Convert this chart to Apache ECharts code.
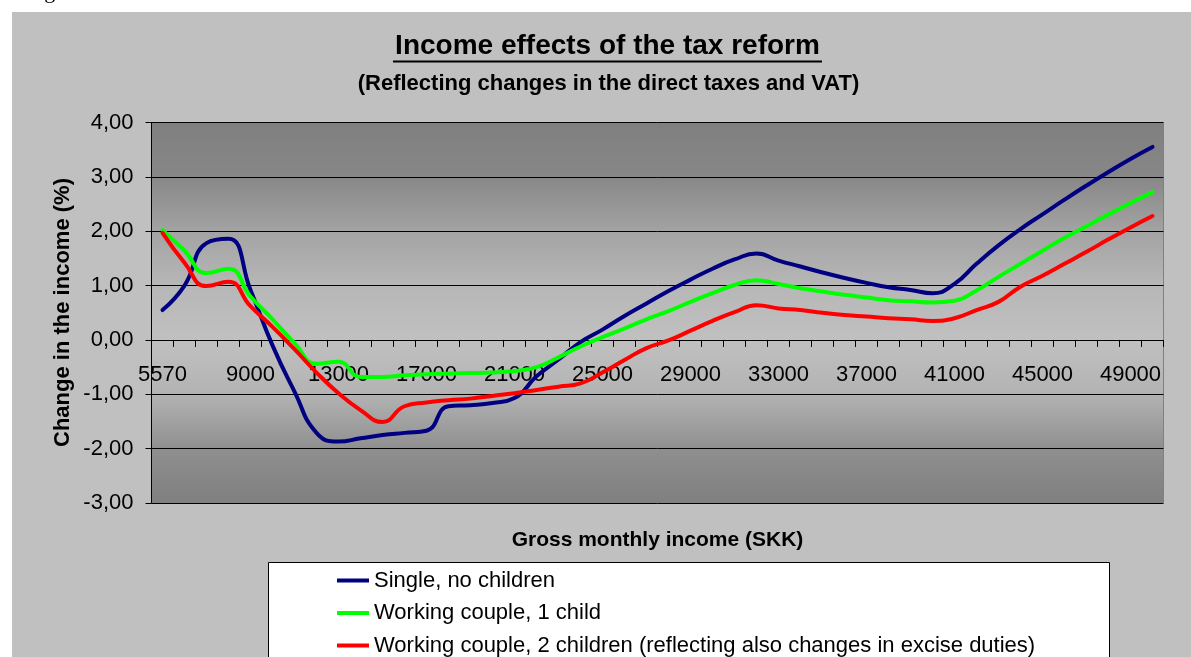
<!DOCTYPE html>
<html>
<head>
<meta charset="utf-8">
<script src="https://cdn.jsdelivr.net/npm/echarts@6/dist/echarts.min.js"></script>
<style>
html,body{margin:0;padding:0;background:#fff;}
#chart{width:1191px;height:657px;}
</style>
</head>
<body>
<div id="chart"></div>
<script>
// ---- data ----
const categories = ['5570','6000','7000','8000','9000','10000','11000','12000','13000','14000',
  '15000','16000','17000','18000','19000','20000','21000','22000','23000','24000',
  '25000','26000','27000','28000','29000','30000','31000','32000','33000','34000',
  '35000','36000','37000','38000','39000','40000','41000','42000','43000','44000',
  '45000','46000','47000','48000','49000','50000'];

const singleNoChildren = [0.55, 1.00, 1.78, 1.86, 0.92, -0.10, -0.95, -1.71, -1.87, -1.81,
  -1.75, -1.71, -1.67, -1.22, -1.20, -1.16, -1.07, -0.67, -0.36, -0.04,
  0.19, 0.44, 0.67, 0.90, 1.11, 1.31, 1.48, 1.59, 1.46, 1.35,
  1.24, 1.14, 1.05, 0.97, 0.92, 0.86, 1.03, 1.40, 1.74, 2.04,
  2.31, 2.58, 2.84, 3.09, 3.33, 3.55];

const coupleOneChild = [2.02, 1.64, 1.23, 1.31, 0.80, 0.38, -0.06, -0.44, -0.40, -0.68,
  -0.68, -0.65, -0.63, -0.62, -0.61, -0.60, -0.57, -0.50, -0.32, -0.12,
  0.05, 0.21, 0.38, 0.53, 0.70, 0.86, 1.01, 1.10, 1.03, 0.95,
  0.89, 0.83, 0.78, 0.73, 0.71, 0.69, 0.72, 0.91, 1.16, 1.40,
  1.64, 1.88, 2.09, 2.31, 2.52, 2.72];

const coupleTwoChildren = [1.97, 1.42, 0.99, 1.07, 0.62, 0.24, -0.17, -0.60, -0.98, -1.29,
  -1.51, -1.22, -1.15, -1.11, -1.08, -1.03, -0.98, -0.92, -0.86, -0.80,
  -0.60, -0.37, -0.15, -0.01, 0.17, 0.35, 0.51, 0.64, 0.58, 0.55,
  0.50, 0.46, 0.43, 0.40, 0.38, 0.35, 0.40, 0.55, 0.70, 0.98,
  1.18, 1.40, 1.62, 1.85, 2.07, 2.28];

const seriesNames = ['Single, no children', 'Working couple, 1 child',
  'Working couple, 2 children (reflecting also changes in excise duties)'];
const seriesColors = ['#000080', '#00ff00', '#ff0000'];

const yMin = -3, yMax = 4, yStep = 1;
const titleText = 'Income effects of the tax reform';
const subtitleText = '(Reflecting changes in the direct taxes and VAT)';
const xAxisTitle = 'Gross monthly income (SKK)';
const yAxisTitle = 'Change in the income (%)';

// ---- chart ----
const FONT = '"Liberation Sans", Arial, sans-serif';
const chart = echarts.init(document.getElementById('chart'), null, {renderer: 'canvas'});

const W = 1191, H = 657;
const gridLeft = 151.5, gridRight = 27.5, gridTop = 122.5, gridBottom = 154;
const gridHeight = H - gridTop - gridBottom;
// place the category axis on the zero line of the value axis
const xAxisOffset = -gridHeight * (0 - yMin) / (yMax - yMin);

const plotGradient = new echarts.graphic.LinearGradient(0, 0, 0, 1, [
  {offset: 0, color: '#7f7f7f'},
  {offset: 0.143, color: '#878787'},
  {offset: 0.286, color: '#a3a3a3'},
  {offset: 0.43, color: '#b7b7b7'},
  {offset: 0.571, color: '#c0c0c0'},
  {offset: 0.714, color: '#b3b3b3'},
  {offset: 0.857, color: '#8f8f8f'},
  {offset: 1, color: '#7f7f7f'}
]);

const data = [singleNoChildren, coupleOneChild, coupleTwoChildren];

const option = {
  backgroundColor: '#c0c0c0',
  animation: false,
  textStyle: {fontFamily: FONT},
  grid: {
    left: gridLeft, right: gridRight, top: gridTop, bottom: gridBottom,
    show: true, backgroundColor: plotGradient, borderColor: '#808080', borderWidth: 1,
    containLabel: false
  },
  xAxis: {
    type: 'category',
    data: categories,
    boundaryGap: true,
    position: 'bottom',
    offset: xAxisOffset,
    axisLine: {show: true, onZero: false, lineStyle: {color: '#000', width: 1}},
    axisTick: {show: true, interval: 0, length: 7, inside: false, lineStyle: {color: '#000', width: 1}},
    axisLabel: {interval: 3, color: '#000', fontSize: 22, fontFamily: FONT, margin: 24, hideOverlap: false},
    splitLine: {show: false}
  },
  yAxis: {
    type: 'value',
    min: yMin, max: yMax, interval: yStep,
    axisLine: {show: true, lineStyle: {color: '#000', width: 1}},
    axisTick: {show: true, length: 6, lineStyle: {color: '#000', width: 1}},
    axisLabel: {
      color: '#000', fontSize: 22, fontFamily: FONT, margin: 18,
      formatter: v => v.toFixed(2).replace('.', ',')
    },
    splitLine: {show: true, lineStyle: {color: '#000', width: 1}}
  },
  legend: {
    orient: 'vertical',
    left: 268, top: 562,
    height: 110,
    padding: [7.5, 69, 0, 69],
    itemWidth: 32, itemHeight: 4,
    itemGap: 10.5,
    icon: 'rect',
    z: 10,
    data: seriesNames,
    textStyle: {color: '#000', fontSize: 22, fontFamily: FONT}
  },
  graphic: [
    {type: 'rect', silent: true, z: 1, shape: {x: 0, y: 0, width: W, height: 12}, style: {fill: '#fff'}},
    {type: 'rect', silent: true, z: 1, shape: {x: 0, y: 0, width: 12, height: H}, style: {fill: '#fff'}},
    {type: 'text', silent: true, z: 2, x: 26, y: -19,
      style: {text: 'Figure', font: '22px "Liberation Serif", serif', fill: '#000', align: 'left', verticalAlign: 'top'}},
    {type: 'rect', silent: true, z: 1, shape: {x: 268.5, y: 562.5, width: 841, height: 120},
      style: {fill: '#fff', stroke: '#000', lineWidth: 1}},
    {type: 'text', silent: true, z: 2, x: 607.5, y: 46,
      style: {text: titleText, font: 'bold 28px ' + FONT, fill: '#000', align: 'center', verticalAlign: 'middle', textAlign: 'center', textVerticalAlign: 'middle'}},
    {type: 'line', silent: true, z: 2, shape: {x1: 393, y1: 61.5, x2: 822, y2: 61.5}, style: {stroke: '#000', lineWidth: 2}},
    {type: 'text', silent: true, z: 2, x: 608.5, y: 83.5,
      style: {text: subtitleText, font: 'bold 22px ' + FONT, fill: '#000', align: 'center', verticalAlign: 'middle', textAlign: 'center', textVerticalAlign: 'middle'}},
    {type: 'text', silent: true, z: 2, x: 657.5, y: 540.5,
      style: {text: xAxisTitle, font: 'bold 21px ' + FONT, fill: '#000', align: 'center', verticalAlign: 'middle', textAlign: 'center', textVerticalAlign: 'middle'}},
    {type: 'text', silent: true, z: 2, x: 63, y: 312.5, rotation: Math.PI / 2,
      style: {text: yAxisTitle, font: 'bold 22px ' + FONT, fill: '#000', align: 'center', verticalAlign: 'middle', textAlign: 'center', textVerticalAlign: 'middle'}}
  ],
  series: seriesNames.map((name, k) => ({
    name: name,
    type: 'line',
    data: data[k],
    smooth: 0.5,
    symbol: 'none',
    showSymbol: false,
    color: seriesColors[k],
    itemStyle: {color: seriesColors[k]},
    lineStyle: {color: seriesColors[k], width: 4, cap: 'round', join: 'round'},
    z: 3 + k
  }))
};

chart.setOption(option);
</script>
</body>
</html>
